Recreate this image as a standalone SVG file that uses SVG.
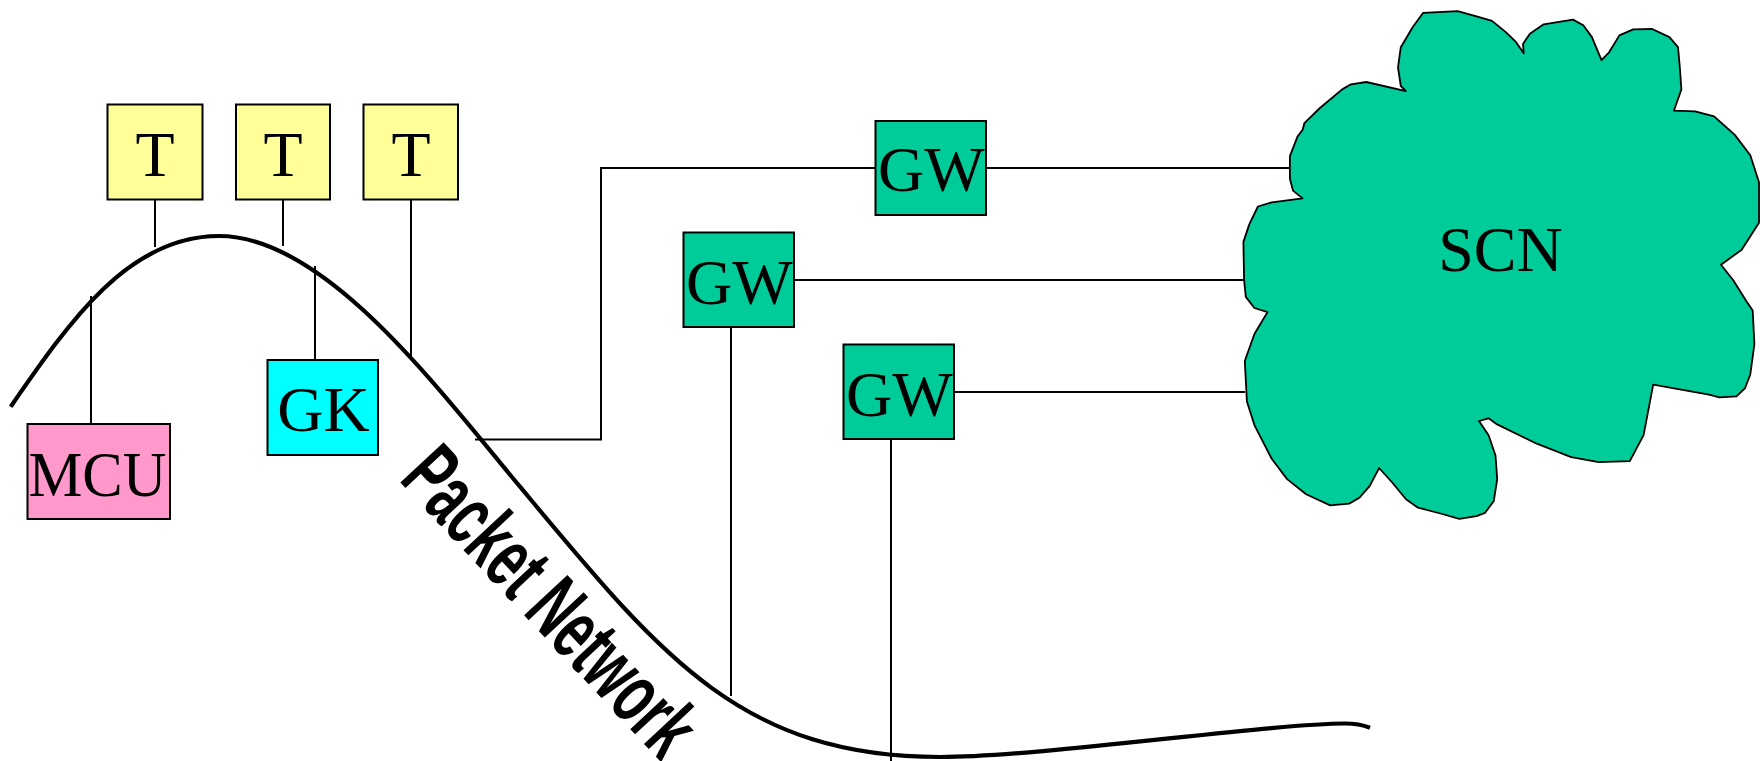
<svg xmlns="http://www.w3.org/2000/svg" width="1760" height="761" viewBox="0 0 1760 761">
  <style>
    .box { stroke: #000; stroke-width: 2; }
    .t { fill: #FFFF99; }
    .gk { fill: #00FFFF; }
    .mcu { fill: #FF99CC; }
    .gw { fill: #00CC99; }
    .lbl { font-family: "Liberation Serif", "Times New Roman", serif; font-size: 64px; fill: #000; text-anchor: middle; }
    .conn { fill: none; stroke: #000; stroke-width: 2; }
    .net { fill: none; stroke: #000; stroke-width: 4.2; }
    .netlbl { font-family: "Liberation Sans", Arial, sans-serif; font-size: 86px; font-weight: bold; fill: #000; }
  </style>
  <rect width="1760" height="761" fill="#fff"/>

  <g id="scn">
    <path fill="#00CC99" stroke="#000" stroke-width="1.8" stroke-linejoin="round" d="M1423.2,12.8 L1457.6,11.1 L1474.8,15.9 L1492,20.9 L1505.8,32.1 L1516.1,42.2 L1523.7,53.3 L1523,43.9 L1529.9,33.7 L1543.7,24.3 L1573,19.6 L1583.3,25.3 L1591.9,37.1 L1601.5,60.1 L1609.1,52.3 L1619.4,35.4 L1633.2,29.4 L1652.2,29 L1669.4,37.1 L1678,47.2 L1679.7,65.8 L1681.4,89.4 L1673.9,110.7 L1695.2,111.3 L1714.1,116.4 L1734.8,134.9 L1750.3,155.2 L1759,182.2 L1759,222.7 L1741.7,249.7 L1721,264.8 L1733.1,280 L1746.9,302 L1752.7,310.4 L1754.4,344.1 L1750.3,374.5 L1745.1,388 L1736.5,396.4 L1719.3,397.4 L1709,394.7 L1653.2,384.6 L1643.6,435.2 L1629.8,461.2 L1598.8,462.2 L1571.2,457.1 L1536.8,443.7 L1497.2,424.4 L1488.6,418.3 L1479,421 L1488.6,435.2 L1495.5,455.5 L1497.2,479.1 L1493.8,501 L1485.1,512.8 L1476.5,516.2 L1459.3,518.9 L1440.4,513.5 L1418,507.7 L1406,499.3 L1392.2,482.5 L1379.1,468 L1369.8,485.8 L1359.5,497.6 L1349.1,503.7 L1330.2,505.4 L1306.1,494.3 L1287.1,479.1 L1271.7,458.8 L1254.4,425.1 L1246.9,401.5 L1244.8,361 L1254.4,334 L1267.5,312.1 L1254.4,308 L1245.8,296.9 L1244.1,280 L1243.4,241.9 L1249.3,224.4 L1257.9,206.5 L1271.7,202.4 L1302.6,198.4 L1293,190.6 L1289.9,178.8 L1289.9,156.2 L1297.5,136.6 L1302.6,129.9 L1304.4,123.1 L1319.9,108 L1342.2,89.4 L1350.9,84.3 L1366.3,82 L1405.9,91.1 L1400.8,86 L1398,67.5 L1400.8,47.2 L1412.8,27 Z"/>
    <text class="lbl" x="1500.5" y="271">SCN</text>
  </g>

  <g id="packet-network">
    <path class="net" d="M10.7,406.7 C70.7,319.7 129,236 219,236 C324,236 435,384.7 520,486.7 C660,654.7 740,757 940,757 C1040,757 1270,723.5 1345,723.5 C1355,723.5 1363,725 1370,727.7"/>
    <text class="netlbl" transform="translate(398,480) rotate(47)" textLength="386" lengthAdjust="spacingAndGlyphs">Packet Network</text>
  </g>

  <g id="connectors">
    <line class="conn" x1="155" y1="200" x2="155" y2="247"/>
    <line class="conn" x1="283" y1="200" x2="283" y2="246"/>
    <line class="conn" x1="411" y1="200" x2="411" y2="358"/>
    <line class="conn" x1="315" y1="266" x2="315" y2="360"/>
    <line class="conn" x1="91" y1="296" x2="91" y2="424"/>
    <polyline class="conn" points="475,439.5 601,439.5 601,168 875,168"/>
    <line class="conn" x1="987" y1="168" x2="1290" y2="168"/>
    <line class="conn" x1="795" y1="280" x2="1244" y2="280"/>
    <line class="conn" x1="955" y1="392" x2="1245" y2="392"/>
    <line class="conn" x1="731" y1="328" x2="731" y2="696"/>
    <line class="conn" x1="891" y1="440" x2="891" y2="761"/>
  </g>

  <g id="t1">
    <rect class="box t" x="107.5" y="104.5" width="95" height="95"/>
    <text class="lbl" x="155" y="176">T</text>
  </g>
  <g id="t2">
    <rect class="box t" x="236" y="104.5" width="94" height="95"/>
    <text class="lbl" x="283" y="176">T</text>
  </g>
  <g id="t3">
    <rect class="box t" x="363.5" y="104.5" width="94.5" height="95"/>
    <text class="lbl" x="411" y="176">T</text>
  </g>
  <g id="gk">
    <rect class="box gk" x="267.5" y="360" width="110.5" height="95"/>
    <text class="lbl" x="323.5" y="431">GK</text>
  </g>
  <g id="mcu">
    <rect class="box mcu" x="27.5" y="424" width="142.5" height="95"/>
    <text class="lbl" x="97.5" y="496" textLength="138" lengthAdjust="spacingAndGlyphs">MCU</text>
  </g>
  <g id="gw1">
    <rect class="box gw" x="875.5" y="121" width="110.5" height="94"/>
    <text class="lbl" x="931.3" y="191">GW</text>
  </g>
  <g id="gw2">
    <rect class="box gw" x="683.5" y="232.5" width="110.5" height="94.5"/>
    <text class="lbl" x="739.3" y="304">GW</text>
  </g>
  <g id="gw3">
    <rect class="box gw" x="843.5" y="344.5" width="110.5" height="94.5"/>
    <text class="lbl" x="899.3" y="416">GW</text>
  </g>
</svg>
